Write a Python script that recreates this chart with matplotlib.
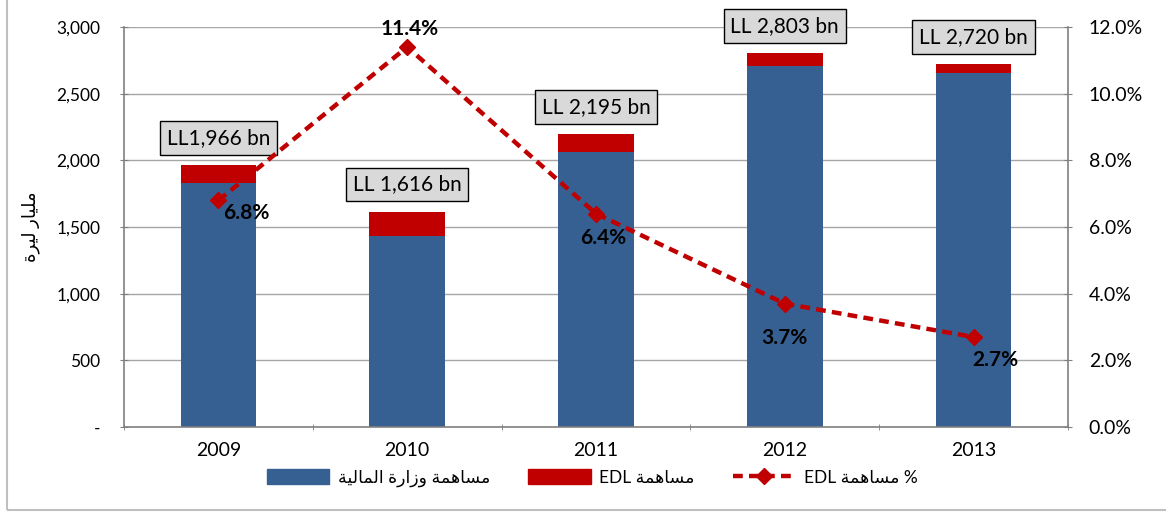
import numpy as np
import matplotlib
matplotlib.use("Agg")
import matplotlib.pyplot as plt
from matplotlib.patches import Rectangle, Patch
from matplotlib.lines import Line2D
from matplotlib.ticker import FuncFormatter, MultipleLocator

plt.rcParams['font.family'] = ['Lato', 'DejaVu Sans']

"""Data (LL billion)"""
years = ["2009", "2010", "2011", "2012", "2013"]
mof = [1830, 1433, 2063, 2708, 2655]        # Ministry of Finance contribution
edl = [136, 183, 132, 95, 65]               # EDL contribution
totals = [1966, 1616, 2195, 2803, 2720]
total_labels = ["LL1,966 bn", "LL 1,616 bn", "LL 2,195 bn", "LL 2,803 bn", "LL 2,720 bn"]
edl_pct = [6.8, 11.4, 6.4, 3.7, 2.7]

"""Arabic text, pre-shaped (presentation forms, visual order)"""
w_mosahama = "\uFE94\uFEE4\uFEEB\uFE8E\uFEB4\uFEE3"          # مساهمة
w_wazara = "\uFE93\uFEAD\uFE8D\uFEAF\uFEED"                  # وزارة
w_almaliya = "\uFE94\uFEF4\uFEDF\uFE8E\uFEE4\uFEDF\uFE8D"    # المالية
w_milyar = "\uFEAD\uFE8E\uFEF4\uFEE0\uFEE3"                  # مليار
w_lira = "\uFE93\uFEAE\uFEF4\uFEDF"                          # ليرة
lbl_mof = w_almaliya + " " + w_wazara + " " + w_mosahama
lbl_edl = "EDL " + w_mosahama
lbl_pct = "EDL " + w_mosahama + " %"
ylab = w_lira + " " + w_milyar

blue = "#376092"
red = "#c00000"
grid_c = "#a6a6a6"

fig = plt.figure(figsize=(11.66, 5.13), dpi=100)
ax = fig.add_axes([124/1166, 86/513, 944/1166, 400/513])
x = np.arange(len(years))

ax.bar(x, mof, width=0.4, color=blue, zorder=2)
ax.bar(x, edl, bottom=mof, width=0.4, color=red, zorder=2)

ax.set_xlim(-0.5, 4.5)
ax.set_ylim(0, 3000)
ax.yaxis.set_major_locator(MultipleLocator(500))
ax.yaxis.set_major_formatter(FuncFormatter(lambda v, p: "-" if v == 0 else f"{int(v):,}"))
ax.grid(axis='y', color=grid_c, linewidth=1, zorder=0)
ax.set_xticks(x)
ax.set_xticklabels(years, fontsize=14)
ax.set_xticks(np.arange(-0.5, 5, 1), minor=True)
ax.tick_params(axis='x', which='major', length=0, pad=11)
ax.tick_params(axis='x', which='minor', length=5, direction='inout', color='#808080')
ax.tick_params(axis='y', length=6, direction='inout', color='#808080', labelsize=12.5, pad=14)
for s in ['top', 'right']:
    ax.spines[s].set_visible(False)
for s in ['left', 'bottom']:
    ax.spines[s].set_color('#808080')
    ax.spines[s].set_linewidth(1.2)
ax.set_ylabel(ylab, fontsize=13, labelpad=12)

for i in range(len(years)):
    ax.annotate(total_labels[i], (x[i], totals[i]), xytext=(0, 27), textcoords='offset pixels',
                ha='center', va='center', fontsize=15,
                bbox=dict(boxstyle='square,pad=0.33', fc='#d9d9d9', ec='black', lw=1), zorder=5)

ax2 = ax.twinx()
ax2.set_ylim(0, 12)
ax2.yaxis.set_major_locator(MultipleLocator(2))
ax2.yaxis.set_major_formatter(FuncFormatter(lambda v, p: f"{v:.1f}%"))
ax2.tick_params(axis='y', length=6, direction='inout', color='#808080', labelsize=14, pad=12)
for s in ['top', 'left', 'bottom']:
    ax2.spines[s].set_visible(False)
ax2.spines['right'].set_color('#808080')
ax2.spines['right'].set_linewidth(1.2)
ax2.plot(x, edl_pct, color=red, linestyle=(0, (2.2, 1.4)), linewidth=3.2,
         marker='D', markersize=8, zorder=4)

pct_off = [(28, -13), (2, 18), (7, -24), (0, -34), (22, -23)]
for i in range(len(years)):
    ax2.annotate(f"{edl_pct[i]}%", (x[i], edl_pct[i]), xytext=pct_off[i], textcoords='offset pixels',
                 ha='center', va='center', fontsize=15, fontweight='bold', zorder=6)

handles = [Patch(color=blue), Patch(color=red),
           Line2D([0], [0], color=red, linestyle=(0, (2.2, 1.4)), linewidth=3.2, marker='D', markersize=8)]
fig.legend(handles, [lbl_mof, lbl_edl, lbl_pct], loc='center', bbox_to_anchor=(0.508, 0.068),
           ncol=3, frameon=False, fontsize=12.5, handlelength=3.6, handleheight=0.9,
           columnspacing=2.2, handletextpad=0.5)

fig.patches.append(Rectangle((7/1166, 3/513), 1.2, 1.2, transform=fig.transFigure,
                             fill=False, ec='#bfbfbf', lw=1.5))

fig.savefig("out.png", dpi=100)
